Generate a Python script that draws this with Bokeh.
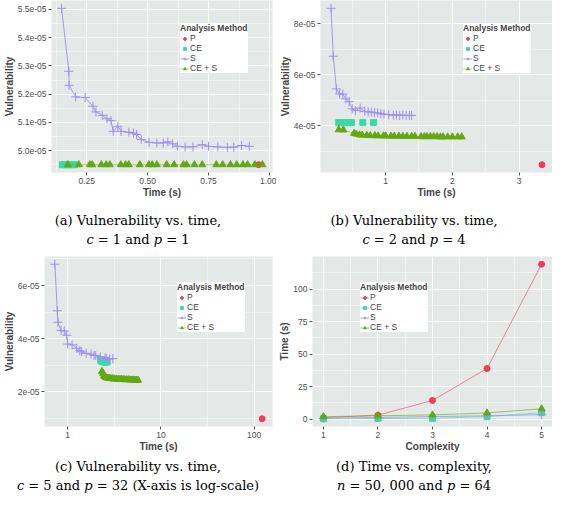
from bokeh.plotting import figure
from bokeh.layouts import column, row
from bokeh.models import FixedTicker, CustomJSTickFormatter, Range1d, Div
from bokeh.embed import file_html
from bokeh.resources import INLINE

# ---------------- data ----------------
methods = ["P", "CE", "S", "CE + S"]
colors = {"P": "#EE3D57", "CE": "#3ED8A6", "S": "#A08EF0", "CE + S": "#62A812"}

# (a) c = 1, p = 1
a_p_time = [0.955]
a_p_vuln = [4.95e-05]
a_ce_time = [0.150, 0.160, 0.170, 0.180, 0.190, 0.200]
a_ce_vuln = [4.95e-05, 4.95e-05, 4.95e-05, 4.95e-05, 4.95e-05, 4.95e-05]
a_s_time = [0.147, 0.177, 0.178, 0.205, 0.244, 0.276, 0.288, 0.314, 0.333, 0.350, 0.359, 0.378,
            0.391, 0.423, 0.442, 0.455, 0.474, 0.506, 0.538, 0.564, 0.583, 0.603, 0.622, 0.654,
            0.686, 0.724, 0.750, 0.788, 0.827, 0.853, 0.885, 0.917]
a_s_vuln = [5.504e-05, 5.281e-05, 5.231e-05, 5.190e-05, 5.188e-05, 5.157e-05, 5.137e-05, 5.125e-05,
            5.113e-05, 5.106e-05, 5.068e-05, 5.086e-05, 5.068e-05, 5.065e-05, 5.062e-05, 5.057e-05,
            5.039e-05, 5.029e-05, 5.027e-05, 5.027e-05, 5.031e-05, 5.024e-05, 5.015e-05, 5.013e-05,
            5.013e-05, 5.021e-05, 5.015e-05, 5.013e-05, 5.011e-05, 5.012e-05, 5.018e-05, 5.015e-05]
a_ces_time = [0.173, 0.218, 0.263, 0.273, 0.310, 0.330, 0.345, 0.390, 0.410, 0.423, 0.468, 0.505,
              0.519, 0.538, 0.578, 0.609, 0.647, 0.660, 0.692, 0.724, 0.782, 0.808, 0.840, 0.865,
              0.891, 0.910, 0.940, 0.971]
a_ces_vuln = [4.95e-05, 4.95e-05, 4.95e-05, 4.95e-05, 4.95e-05, 4.95e-05, 4.95e-05, 4.95e-05,
              4.95e-05, 4.95e-05, 4.95e-05, 4.95e-05, 4.95e-05, 4.95e-05, 4.95e-05, 4.95e-05,
              4.95e-05, 4.95e-05, 4.95e-05, 4.95e-05, 4.95e-05, 4.95e-05, 4.95e-05, 4.95e-05,
              4.95e-05, 4.95e-05, 4.95e-05, 4.95e-05]
a_x_ticks = [0.25, 0.50, 0.75, 1.00]
a_x_labels = ["0.25", "0.50", "0.75", "1.00"]
a_y_ticks = [5.0e-05, 5.1e-05, 5.2e-05, 5.3e-05, 5.4e-05, 5.5e-05]
a_y_labels = ["5.0e-05", "5.1e-05", "5.2e-05", "5.3e-05", "5.4e-05", "5.5e-05"]

# (b) c = 2, p = 4
b_p_time = [3.34]
b_p_vuln = [2.48e-05]
b_ce_time = [0.30, 0.34, 0.38, 0.42, 0.46, 0.49, 0.66, 0.82]
b_ce_vuln = [4.13e-05, 4.13e-05, 4.13e-05, 4.13e-05, 4.13e-05, 4.13e-05, 4.13e-05, 4.13e-05]
b_s_time = [0.185, 0.218, 0.265, 0.313, 0.360, 0.407, 0.455, 0.502, 0.550, 0.620, 0.690, 0.740,
            0.787, 0.835, 0.882, 0.930, 0.976, 1.047, 1.118, 1.165, 1.213, 1.260, 1.309, 1.356, 1.390]
b_s_vuln = [8.61e-05, 6.73e-05, 5.45e-05, 5.25e-05, 5.25e-05, 5.06e-05, 4.95e-05, 4.67e-05,
            4.60e-05, 4.70e-05, 4.57e-05, 4.55e-05, 4.54e-05, 4.52e-05, 4.51e-05, 4.48e-05,
            4.46e-05, 4.44e-05, 4.42e-05, 4.43e-05, 4.41e-05, 4.42e-05, 4.41e-05, 4.41e-05, 4.41e-05]
b_ces_time = [0.30, 0.37, 0.53, 0.56, 0.61, 0.65, 0.72, 0.77, 0.84, 0.89, 0.97, 1.00, 1.08, 1.13,
              1.20, 1.26, 1.32, 1.39, 1.44, 1.53, 1.58, 1.62, 1.67, 1.72, 1.77, 1.82, 1.86, 1.93,
              2.00, 2.08, 2.14]
b_ces_vuln = [3.85e-05, 3.84e-05, 3.71e-05, 3.68e-05, 3.65e-05, 3.64e-05, 3.63e-05, 3.62e-05,
              3.62e-05, 3.61e-05, 3.61e-05, 3.61e-05, 3.60e-05, 3.60e-05, 3.60e-05, 3.59e-05,
              3.59e-05, 3.59e-05, 3.59e-05, 3.58e-05, 3.58e-05, 3.58e-05, 3.58e-05, 3.58e-05,
              3.58e-05, 3.57e-05, 3.57e-05, 3.57e-05, 3.57e-05, 3.57e-05, 3.57e-05]
b_x_ticks = [1, 2, 3]
b_x_labels = ["1", "2", "3"]
b_y_ticks = [4e-05, 6e-05, 8e-05]
b_y_labels = ["4e-05", "6e-05", "8e-05"]

# (c) c = 5, p = 32 (log x)
c_p_time = [121.6]
c_p_vuln = [0.99e-05]
c_ce_time = [2.25, 2.32, 2.40, 2.48, 2.56, 2.65]
c_ce_vuln = [3.20e-05, 3.15e-05, 3.14e-05, 3.12e-05, 3.12e-05, 3.13e-05]
c_s_time = [0.729, 0.774, 0.787, 0.850, 0.920, 0.977, 1.000, 1.115, 1.250, 1.350, 1.410, 1.580,
            1.780, 1.920, 2.000, 2.240, 2.520, 2.620, 2.820, 3.050]
c_s_vuln = [6.80e-05, 5.05e-05, 4.62e-05, 4.31e-05, 4.29e-05, 4.13e-05, 3.80e-05, 3.77e-05,
            3.64e-05, 3.55e-05, 3.51e-05, 3.45e-05, 3.42e-05, 3.37e-05, 3.37e-05, 3.32e-05,
            3.29e-05, 3.25e-05, 3.24e-05, 3.25e-05]
c_ces_time = [2.33, 2.40, 2.45, 2.52, 2.60, 2.70, 2.80, 2.90, 3.00, 3.10, 3.20, 3.35, 3.50, 3.65,
              3.80, 3.95, 4.10, 4.30, 4.50, 4.70, 4.90, 5.10, 5.30, 5.50, 5.69]
c_ces_vuln = [2.77e-05, 2.70e-05, 2.60e-05, 2.56e-05, 2.53e-05, 2.52e-05, 2.51e-05, 2.50e-05,
              2.50e-05, 2.49e-05, 2.49e-05, 2.48e-05, 2.48e-05, 2.47e-05, 2.47e-05, 2.47e-05,
              2.46e-05, 2.46e-05, 2.46e-05, 2.45e-05, 2.45e-05, 2.45e-05, 2.44e-05, 2.44e-05, 2.44e-05]
c_x_ticks = [1, 10, 100]
c_x_labels = ["1", "10", "100"]
c_y_ticks = [2e-05, 4e-05, 6e-05]
c_y_labels = ["2e-05", "4e-05", "6e-05"]

# (d) time vs complexity
d_complexity = [1, 2, 3, 4, 5]
d_p_time = [1.0, 3.0, 14.3, 38.9, 119.2]
d_ce_time = [0.2, 0.4, 0.6, 1.9, 4.9]
d_s_time = [0.6, 1.2, 1.9, 2.5, 3.4]
d_ces_time = [1.8, 2.5, 3.2, 4.7, 7.9]
d_x_ticks = [1, 2, 3, 4, 5]
d_x_labels = ["1", "2", "3", "4", "5"]
d_y_ticks = [0, 25, 50, 75, 100]
d_y_labels = ["0", "25", "50", "75", "100"]

captions_top = [["(a) Vulnerability vs. time,", "<i>c</i> = 1 and <i>p</i> = 1"],
                ["(b) Vulnerability vs. time,", "<i>c</i> = 2 and <i>p</i> = 4"]]
captions_bottom = [["(c) Vulnerability vs. time,", "<i>c</i> = 5 and <i>p</i> = 32 (X-axis is log-scale)"],
                   ["(d) Time vs. complexity,", "<i>n</i> = 50, 000 and <i>p</i> = 64"]]

# ---------------- helpers ----------------
PANEL_BG = "#E4E8E7"
SANS = "Liberation Sans"


def fmt(ticks, labels):
    return CustomJSTickFormatter(args=dict(tv=ticks, tl=labels), code="""
        for (let i = 0; i < tv.length; i++) {
            if (Math.abs(tv[i] - tick) <= 1e-9 * Math.max(1e-4, Math.abs(tv[i]))) return tl[i];
        }
        return "";
    """)


def pad_range(vals, log=False):
    import math
    if log:
        lv = [math.log10(v) for v in vals]
        lo, hi = min(lv), max(lv)
        s = hi - lo
        return Range1d(10 ** (lo - 0.05 * s), 10 ** (hi + 0.05 * s))
    lo, hi = min(vals), max(vals)
    s = hi - lo
    return Range1d(lo - 0.05 * s, hi + 0.05 * s)


def make_fig(xs, ys, xt, xl, xminor, yt, yl, yminor, xlab, ylab, height, top, log=False):
    p = figure(width=276, height=height, x_range=pad_range(xs, log), y_range=pad_range(ys),
               x_axis_type="log" if log else "linear",
               output_backend="svg", toolbar_location=None,
               min_border_top=top, min_border_right=4, min_border_left=0, min_border_bottom=0)
    p.background_fill_color = PANEL_BG
    p.border_fill_color = "white"
    p.outline_line_color = None
    p.xaxis.ticker = FixedTicker(ticks=xt, minor_ticks=xminor)
    p.yaxis.ticker = FixedTicker(ticks=yt, minor_ticks=yminor)
    p.xaxis.formatter = fmt(xt, xl)
    p.yaxis.formatter = fmt(yt, yl)
    p.xaxis.axis_label = xlab
    p.yaxis.axis_label = ylab
    for ax in (p.xaxis, p.yaxis):
        ax.axis_line_color = None
        ax.major_tick_line_color = "#555555"
        ax.major_tick_out = 3
        ax.major_tick_in = 0
        ax.minor_tick_line_color = None
        ax.major_label_text_font = SANS
        ax.major_label_text_font_size = "8.5px"
        ax.major_label_text_color = "#4D4D4D"
        ax.major_label_standoff = 1
        ax.axis_label_text_font = SANS
        ax.axis_label_text_font_size = "10px"
        ax.axis_label_text_font_style = "bold"
        ax.axis_label_standoff = 0
    p.grid.grid_line_color = "white"
    p.grid.grid_line_width = 1
    p.grid.minor_grid_line_color = "white"
    p.grid.minor_grid_line_width = 0.5
    return p


def style_legend(p, loc):
    lg = p.legend[0]
    lg.title = "Analysis Method"
    lg.title_text_font = SANS
    lg.title_text_font_style = "bold"
    lg.title_text_font_size = "8.5px"
    lg.title_standoff = 0
    lg.label_text_font = SANS
    lg.label_text_font_size = "8.5px"
    lg.label_height = 7
    lg.glyph_height = 7
    lg.glyph_width = 9
    lg.label_standoff = 1
    lg.spacing = 0
    lg.padding = 2
    lg.margin = 0
    lg.border_line_color = None
    lg.background_fill_color = "white"
    lg.background_fill_alpha = 1
    lg.location = loc


def vuln_panel(pt, pv, cet, cev, st, sv, cst, csv, xt, xl, xminor, yt, yl, yminor, height, top,
               loc, log=False):
    p = make_fig(pt + cet + st + cst, pv + cev + sv + csv, xt, xl, xminor, yt, yl, yminor,
                 "Time (s)", "Vulnerability", height, top, log)
    p.scatter(pt, pv, marker="circle", size=6, color=colors["P"], legend_label="P")
    p.scatter(cet, cev, marker="square", size=6, color=colors["CE"], legend_label="CE")
    p.line(st, sv, line_color=colors["S"], line_width=1, line_alpha=0.9, legend_label="S")
    p.scatter(st, sv, marker="cross", size=9, line_width=1, color=colors["S"], legend_label="S")
    p.line(cst, csv, line_color=colors["CE + S"], line_width=1, line_alpha=0.5, legend_label="CE + S")
    p.scatter(cst, csv, marker="triangle", size=7, color=colors["CE + S"], legend_label="CE + S")
    style_legend(p, loc)
    return p


fa = vuln_panel(a_p_time, a_p_vuln, a_ce_time, a_ce_vuln, a_s_time, a_s_vuln, a_ces_time, a_ces_vuln,
                a_x_ticks, a_x_labels, [0.125, 0.375, 0.625, 0.875],
                a_y_ticks, a_y_labels, [4.95e-05, 5.05e-05, 5.15e-05, 5.25e-05, 5.35e-05, 5.45e-05],
                200, 0, (129, 99))
fb = vuln_panel(b_p_time, b_p_vuln, b_ce_time, b_ce_vuln, b_s_time, b_s_vuln, b_ces_time, b_ces_vuln,
                b_x_ticks, b_x_labels, [0.5, 1.5, 2.5, 3.5],
                b_y_ticks, b_y_labels, [3e-05, 5e-05, 7e-05, 9e-05],
                200, 0, (143, 99))
fb.min_border_right = 0
fc = vuln_panel(c_p_time, c_p_vuln, c_ce_time, c_ce_vuln, c_s_time, c_s_vuln, c_ces_time, c_ces_vuln,
                c_x_ticks, c_x_labels, [0.316, 3.16, 31.6],
                c_y_ticks, c_y_labels, [1e-05, 3e-05, 5e-05, 7e-05],
                206, 8, (133, 94), log=True)

fd = make_fig(d_complexity, d_p_time + d_ce_time + d_s_time + d_ces_time,
              d_x_ticks, d_x_labels, [1.5, 2.5, 3.5, 4.5],
              d_y_ticks, d_y_labels, [12.5, 37.5, 62.5, 87.5, 112.5],
              "Complexity", "Time (s)", 206, 8)
fd.min_border_right = 0
fd.line(d_complexity, d_p_time, line_color=colors["P"], line_width=1, line_alpha=0.6, legend_label="P")
fd.scatter(d_complexity, d_p_time, marker="circle", size=6, color=colors["P"], legend_label="P")
fd.line(d_complexity, d_ce_time, line_color=colors["CE"], line_width=1, line_alpha=0.6, legend_label="CE")
fd.scatter(d_complexity, d_ce_time, marker="square", size=6, color=colors["CE"], legend_label="CE")
fd.line(d_complexity, d_s_time, line_color=colors["S"], line_width=1, line_alpha=0.8, legend_label="S")
fd.scatter(d_complexity, d_s_time, marker="cross", size=9, line_width=1, color=colors["S"], legend_label="S")
fd.line(d_complexity, d_ces_time, line_color=colors["CE + S"], line_width=1, line_alpha=0.6, legend_label="CE + S")
fd.scatter(d_complexity, d_ces_time, marker="triangle", size=7, color=colors["CE + S"], legend_label="CE + S")
style_legend(fd, (48, 94))


def caption_div(lines, height, pad_top):
    html = ("<div style='display:block;width:276px;box-sizing:border-box;text-align:center;"
            "font-family:\"DejaVu Serif\";font-size:13px;line-height:19px;color:black;"
            "padding-top:%dpx;margin:0'>%s</div>" % (pad_top, "<br>".join(lines)))
    return Div(text=html, width=276, height=height, margin=0,
               styles={"text-align": "center", "width": "276px"})


cap1 = row(caption_div(captions_top[0], 48, 11), caption_div(captions_top[1], 48, 11))
cap2 = row(caption_div(captions_bottom[0], 38, 3), caption_div(captions_bottom[1], 38, 3))

layout = column(row(fa, fb), cap1, row(fc, fd), cap2)

open("out.html", "w").write(file_html(layout, INLINE))
